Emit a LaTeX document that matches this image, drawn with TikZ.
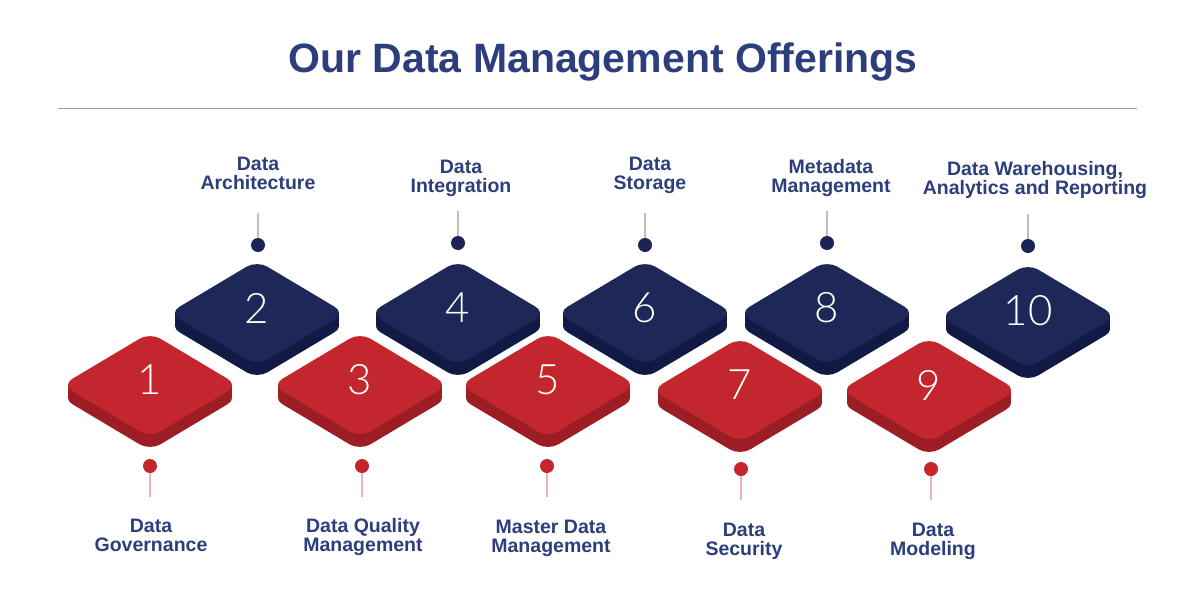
\documentclass[tikz,border=0pt]{standalone}
\usepackage{fontspec}
\setmainfont{Liberation Sans}
\IfFontExistsTF{Lato Light}{\newfontfamily\numfont{Lato Light}}{%
  \IfFontExistsTF{Poppins-ExtraLight.otf}{\newfontfamily\numfont{Poppins-ExtraLight.otf}}{%
    \IfFontExistsTF{Open Sans Light}{\newfontfamily\numfont{Open Sans Light}}{%
      \IfFontExistsTF{Lato Thin}{\newfontfamily\numfont{Lato Thin}}{%
        \newfontfamily\numfont{Liberation Sans}}}}}
\usetikzlibrary{positioning}

\definecolor{titleblue}{RGB}{45,62,124}
\definecolor{tileblue}{RGB}{30,40,88}
\definecolor{tilebluedark}{RGB}{17,26,68}
\definecolor{tilered}{RGB}{196,38,46}
\definecolor{tilereddark}{RGB}{157,29,36}
\definecolor{dotblue}{RGB}{28,36,85}
\definecolor{dotred}{RGB}{196,38,46}
\definecolor{stemgray}{RGB}{190,190,195}
\definecolor{stempink}{RGB}{232,180,186}

\tikzset{
  title/.style={font=\bfseries\fontsize{41}{44}\selectfont, text=titleblue, inner sep=0pt},
  offer/.style={font=\bfseries\fontsize{19.5}{19.5}\selectfont, text=titleblue, align=center,
    inner sep=0pt, text depth=0pt, anchor=south},
  tilenum/.style={font=\numfont\fontsize{42}{42}\selectfont, text=white, inner sep=0pt},
  pin/.style={circle, inner sep=0pt, minimum size=14pt},
  stem/.style={line width=1.2pt},
}

\begin{document}
\begin{tikzpicture}[x=1pt, y=-1pt]
\useasboundingbox (0,0) rectangle (1200,600);
\fill[white] (0,0) rectangle (1200,600);

% titulo y linea
\node[title] (heading) at (603,62) {Our Data Management Offerings};
\coordinate (ruleL) at (58,108);
\coordinate (ruleR) at (1137,108);
\draw[line width=1pt, stemgray!85!black] (ruleL) -- (ruleR);

% bloques
\foreach \n/\cx/\cy/\top/\side in {1/150/385/tilered/tilereddark, 2/257/313/tileblue/tilebluedark,
    3/360/385/tilered/tilereddark, 4/458/313/tileblue/tilebluedark,
    5/548/385/tilered/tilereddark, 6/645/313/tileblue/tilebluedark,
    7/740/390/tilered/tilereddark, 8/827/313/tileblue/tilebluedark,
    9/929/390/tilered/tilereddark, 10/1028/316/tileblue/tilebluedark}{
  \foreach \t in {1,...,13}
    \fill[\side, rounded corners=12pt] ({\cx-44},{\cy-26.25+\t}) -- (\cx,{\cy-52.5+\t})
      -- ({\cx+88},{\cy+\t}) -- (\cx,{\cy+52.5+\t}) -- ({\cx-88},{\cy+\t}) -- cycle;
  \fill[\top, rounded corners=12pt] ({\cx-44},{\cy-26.25}) -- (\cx,{\cy-52.5})
      -- ({\cx+88},\cy) -- (\cx,{\cy+52.5}) -- ({\cx-88},\cy) -- cycle;
  \node[tilenum] (num\n) at (\cx,{\cy-5}) {\n};
}

% puntos de arriba
\foreach \n/\px/\py in {2/258/245, 4/458/243, 6/645/245, 8/827/243, 10/1028/246}{
  \node[pin, fill=dotblue] (pin\n) at (\px,\py) {};
  \coordinate (stem\n) at (\px,{\py-32});
  \draw[stem, stemgray] (pin\n) -- (stem\n);
}

% puntos de abajo
\foreach \n/\px/\py in {1/150/466, 3/362/466, 5/547/466, 7/741/469, 9/931/469}{
  \node[pin, fill=dotred] (pin\n) at (\px,\py) {};
  \coordinate (stem\n) at (\px,{\py+31});
  \draw[stem, stempink] (pin\n) -- (stem\n);
}

% textos
\node[offer] (lab2) at (258,190) {Data\\Architecture};
\node[offer] (lab4) at (461,193) {Data\\Integration};
\node[offer] (lab6) at (650,190) {Data\\Storage};
\node[offer] (lab8) at (831,193) {Metadata\\Management};
\node[offer] (lab10) at (1035,195) {Data Warehousing,\\Analytics and Reporting};
\node[offer] (lab1) at (151,552) {Data\\Governance};
\node[offer] (lab3) at (363,552) {Data Quality\\Management};
\node[offer] (lab5) at (551,553) {Master Data\\Management};
\node[offer] (lab7) at (744,556) {Data\\Security};
\node[offer] (lab9) at (933,556) {Data\\Modeling};

\end{tikzpicture}
\end{document}
